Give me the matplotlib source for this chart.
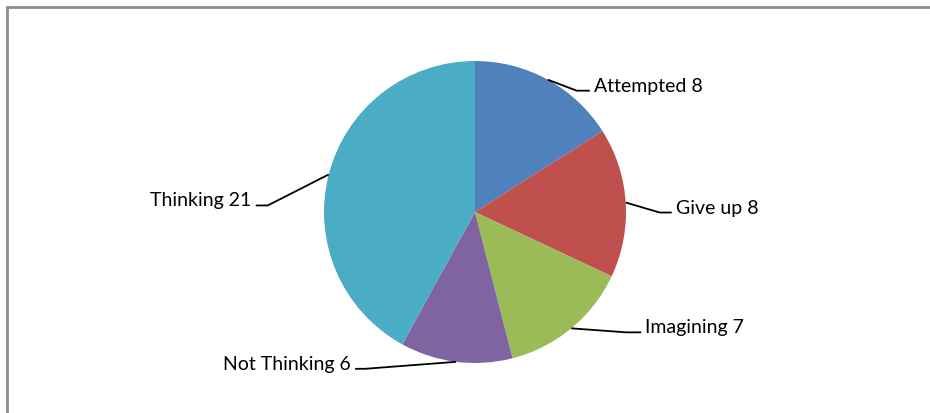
import matplotlib.pyplot as plt
import numpy as np

labels = ['Attempted', 'Give up', 'Imagining', 'Not Thinking', 'Thinking']
values = [8, 8, 7, 6, 21]
colors = ['#4F81BD', '#C0504D', '#9BBB59', '#8064A2', '#4BACC6']

# leader line elbow offsets / text placement (pixels, relative to wedge edge midpoint)
elbowOffsets = [(29, -11), (34, -10), (55, -4), (-91, -7), (-61, -31)]
lineLength = [13, 12, 15, 10, 12]

W, H = 930, 414
fig = plt.figure(figsize=(W / 100, H / 100), dpi=100)
ax = fig.add_axes([0, 0, 1, 1])

cx, cy, r = 475, H - 213, 151
wedges, _ = ax.pie(values, colors=colors, startangle=90, counterclock=False,
                   center=(cx, cy), radius=r, frame=True,
                   wedgeprops=dict(linewidth=0))
ax.set_xlim(0, W)
ax.set_ylim(0, H)
ax.set_aspect('equal')
ax.axis('off')

plt.rcParams['font.family'] = ['Lato', 'DejaVu Sans']

for w, lab, val, (dx, dy), ln in zip(wedges, labels, values, elbowOffsets, lineLength):
    ang = np.deg2rad((w.theta1 + w.theta2) / 2)
    ax0 = cx + r * np.cos(ang)
    ay0 = cy + r * np.sin(ang)
    ex, ey = ax0 + dx, ay0 + dy
    side = 1 if dx > 0 else -1
    fx = ex + side * ln
    ax.plot([ax0, ex, fx], [ay0, ey, ey], color='black', lw=1.3,
            solid_capstyle='butt')
    ax.text(fx + side * 4, ey + 5.5, f'{lab} {val}', fontsize=14,
            ha='left' if side > 0 else 'right', va='center', color='black')

# chart border (left and top)
ax.plot([7, 7, W], [0, H - 7.5, H - 7.5], color='#8c8c8c', lw=2,
        solid_joinstyle='miter')

fig.savefig('out.png', dpi=100)
